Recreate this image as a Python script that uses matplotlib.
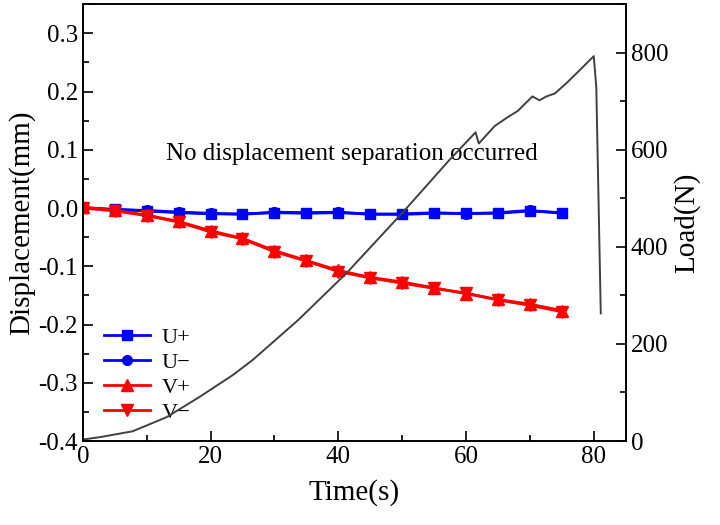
import numpy as np
import matplotlib
matplotlib.use("Agg")
import matplotlib.pyplot as plt
from matplotlib.ticker import MultipleLocator

plt.rcParams["font.family"] = ["Liberation Serif", "DejaVu Serif"]
plt.rcParams["mathtext.fontset"] = "stix"

# displacement data (markers every 5 s)
t_disp = [0, 5, 10, 15, 20, 25, 30, 35, 40, 45, 50, 55, 60, 65, 70, 75]
u_plus = [0.000, -0.002, -0.005, -0.008, -0.010, -0.010, -0.008, -0.009, -0.008,
          -0.010, -0.011, -0.009, -0.009, -0.009, -0.005, -0.008]
u_minus = [0.000, -0.003, -0.004, -0.007, -0.009, -0.011, -0.007, -0.008, -0.007,
           -0.011, -0.010, -0.008, -0.010, -0.008, -0.004, -0.009]
v_plus = [0.002, -0.004, -0.012, -0.023, -0.039, -0.052, -0.073, -0.090, -0.107,
          -0.119, -0.127, -0.137, -0.147, -0.157, -0.165, -0.176]
v_minus = [0.000, -0.005, -0.013, -0.024, -0.041, -0.053, -0.075, -0.091, -0.109,
           -0.120, -0.129, -0.138, -0.146, -0.158, -0.167, -0.178]

# load data
t_load = [0, 2.7, 7.8, 13.1, 18.3, 23.5, 26.6, 33.7, 41.3, 50.1, 57.4, 61.5, 62.0,
          64.5, 66.5, 68.1, 70.4, 71.5, 72.6, 73.9, 75.7, 77.8, 80.0, 80.4, 81.1]
load = [3, 8, 20, 49, 91, 136, 167, 249, 346, 471, 579, 636, 613,
        649, 667, 680, 710, 702, 710, 716, 737, 764, 793, 729, 263]

disp_ticks = [-0.4, -0.3, -0.2, -0.1, 0.0, 0.1, 0.2, 0.3]
disp_labels = ["-0.4", "-0.3", "-0.2", "-0.1", "0.0", "0.1", "0.2", "0.3"]

fig, ax = plt.subplots(figsize=(7.2, 5.25), dpi=100)
fig.subplots_adjust(left=0.115, right=0.869, bottom=0.16, top=0.992)

ax.plot(t_disp, u_plus, color="#0000FF", marker="s", ms=7, lw=2, label="U+")
ax.plot(t_disp, u_minus, color="#0000FF", marker="o", ms=7, lw=2, label="U\u2212")
ax.plot(t_disp, v_plus, color="#FF0000", marker="^", ms=8, lw=2, label="V+")
ax.plot(t_disp, v_minus, color="#FF0000", marker="v", ms=8, lw=2, label="V\u2212")

ax.set_xlim(0, 85)
ax.set_ylim(-0.4, 0.35)
ax.xaxis.set_major_locator(MultipleLocator(20))
ax.xaxis.set_minor_locator(MultipleLocator(10))
ax.set_yticks(disp_ticks)
ax.set_yticklabels(disp_labels)
ax.yaxis.set_minor_locator(MultipleLocator(0.05))
ax.tick_params(which="major", direction="in", length=7, width=1.2, labelsize=18)
ax.tick_params(which="minor", direction="in", length=4, width=1.2)
ax.set_xlabel("Time(s)", fontsize=21, labelpad=8)
ax.set_ylabel("Displacement(mm)", fontsize=21, labelpad=2)

ax.text(42.1, 0.093, "No displacement separation occurred", fontsize=18,
        ha="center", va="center")

leg = ax.legend(loc="lower left", bbox_to_anchor=(0.01, 0.005), frameon=False,
                fontsize=16, handlelength=2.1, labelspacing=0.2, borderaxespad=0.3,
                handletextpad=0.5)

ax2 = ax.twinx()
ax2.plot(t_load, load, color="#404040", lw=1.4)
ax2.set_ylim(0, 900)
ax2.yaxis.set_major_locator(MultipleLocator(200))
ax2.yaxis.set_minor_locator(MultipleLocator(100))
ax2.tick_params(which="major", direction="in", length=7, width=1.2, labelsize=18)
ax2.tick_params(which="minor", direction="in", length=4, width=1.2)
ax2.set_ylabel("Load(N)", fontsize=21, labelpad=4)

for a in (ax, ax2):
    for s in a.spines.values():
        s.set_linewidth(1.2)

fig.savefig("out.png", dpi=100)
